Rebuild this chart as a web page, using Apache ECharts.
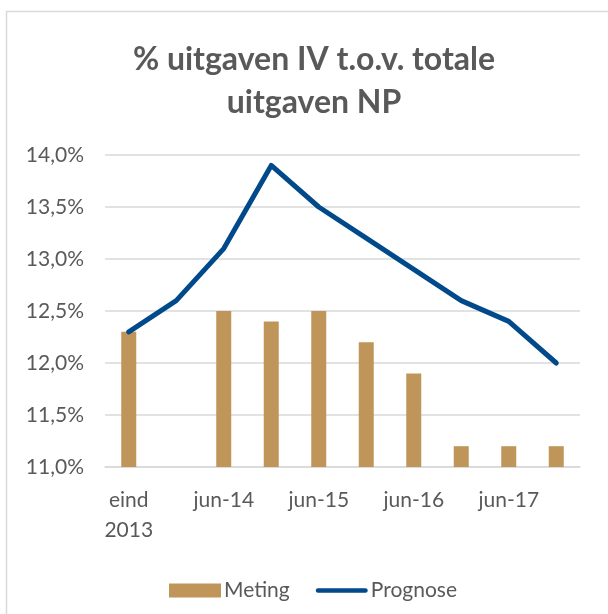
<!DOCTYPE html>
<html>
<head>
<meta charset="utf-8">
<title>% uitgaven IV t.o.v. totale uitgaven NP</title>
<script src="https://cdn.jsdelivr.net/npm/echarts@6/dist/echarts.min.js"></script>
<style>
    html, body {margin: 0; padding: 0; background: #fff;}
    #div_chart {width: 608px; height: 614px;}
</style>
</head>
<body>
<div id="div_chart"></div>
<script>
// categorieën (halfjaarlijks)
const categories = ['eind\n2013', 'dec-13', 'jun-14', 'dec-14', 'jun-15', 'dec-15', 'jun-16', 'dec-16', 'jun-17', 'dec-17'];
// gemeten waarden
const meting = [12.3, null, 12.5, 12.4, 12.5, 12.2, 11.9, 11.2, 11.2, 11.2];
// prognose
const prognose = [12.3, 12.6, 13.1, 13.9, 13.5, 13.2, 12.9, 12.6, 12.4, 12.0];

const textColor = '#595959';
const gridColor = '#d9d9d9';
const fontFamily = 'Lato, "Noto Sans", sans-serif';

/**
 * Initialiseer de grafiek
 */
const initChart = function () {
    const option = {
        animation: false,
        textStyle: {fontFamily: fontFamily},
        title: {
            text: '% uitgaven IV t.o.v. totale\nuitgaven NP',
            left: 309,
            top: 33,
            textAlign: 'center',
            textStyle: {
                fontFamily: fontFamily,
                fontSize: 32,
                fontWeight: 'bold',
                color: textColor,
                lineHeight: 43
            }
        },
        legend: {
            left: 164,
            top: 575,
            itemGap: 26,
            itemWidth: 52,
            itemHeight: 14,
            symbolKeepAspect: true,
            textStyle: {
                fontFamily: fontFamily,
                fontSize: 21,
                color: textColor,
                padding: [0, 0, 0, -2]
            },
            data: [
                {name: 'Meting', icon: 'rect'},
                {name: 'Prognose', icon: 'path://M2.5,0 L52.5,0 A2.5,2.5 0 0 1 52.5,5 L2.5,5 A2.5,2.5 0 0 1 2.5,0 Z'}
            ]
        },
        grid: {
            left: 105,
            right: 28,
            top: 155,
            bottom: 147
        },
        xAxis: {
            type: 'category',
            data: categories,
            axisTick: {show: false},
            axisLine: {lineStyle: {color: gridColor, width: 1.5}},
            axisLabel: {
                interval: 1,
                margin: 18,
                fontFamily: fontFamily,
                fontSize: 21,
                lineHeight: 30,
                color: textColor
            }
        },
        yAxis: {
            type: 'value',
            min: 11,
            max: 14,
            interval: 0.5,
            axisLine: {show: false},
            axisTick: {show: false},
            splitLine: {lineStyle: {color: gridColor, width: 1.5}},
            axisLabel: {
                margin: 21,
                fontFamily: fontFamily,
                fontSize: 21,
                color: textColor,
                formatter: function (value) {
                    return value.toFixed(1).replace('.', ',') + '%';
                }
            }
        },
        graphic: [
            {
                // rand van het grafiekgebied
                type: 'rect',
                silent: true,
                shape: {x: 6.5, y: 11.5, width: 800, height: 800},
                style: {fill: 'none', stroke: gridColor, lineWidth: 1.5}
            }
        ],
        series: [
            {
                name: 'Meting',
                type: 'bar',
                barWidth: 15,
                itemStyle: {color: '#bf9559'},
                data: meting
            },
            {
                name: 'Prognose',
                type: 'line',
                symbol: 'none',
                lineStyle: {color: '#00498a', width: 5, cap: 'round', join: 'round'},
                itemStyle: {color: '#00498a'},
                data: prognose
            }
        ]
    };

    const div_chart = echarts.init(document.getElementById('div_chart'));
    div_chart.setOption(option);
}

initChart();
</script>
</body>
</html>
